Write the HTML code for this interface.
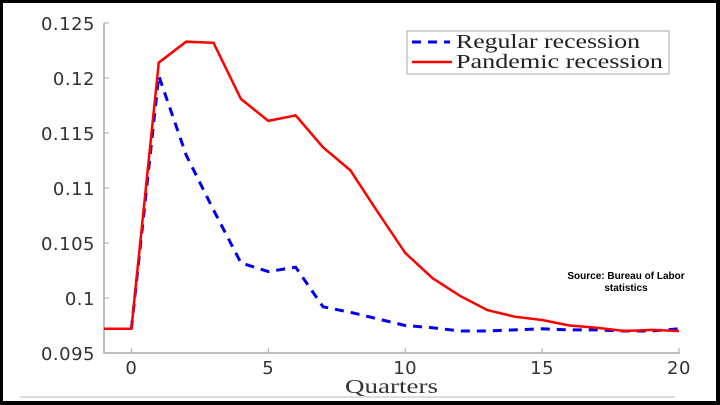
<!DOCTYPE html>
<html><head><meta charset="utf-8"><style>
body{margin:0;background:#000;}
#wrap{position:absolute;left:3px;top:3px;width:713px;height:398px;background:#fff;}
svg{position:absolute;left:0;top:0}
</style></head><body>
<div id="wrap"></div>
<svg id="chart" width="720" height="405"></svg>
<script>
const quarters=[-1,0,1,2,3,4,5,6,7,8,9,10,11,12,13,14,15,16,17,18,19,20];
const pandemic=[0.0972,0.0972,0.1214,0.1233,0.1232,0.1181,0.1161,0.1166,0.1137,0.1116,0.1078,0.1041,0.1018,0.1002,0.0989,0.0983,0.0980,0.0975,0.0973,0.0970,0.0971,0.0970];
const regQuarters=[0,1,2,3,4,5,6,7,8,9,10,11,12,13,14,15,16,17,18,19,20];
const regular=[0.0972,0.1202,0.1130,0.1080,0.1032,0.1024,0.1028,0.0992,0.0987,0.0981,0.0975,0.0973,0.0970,0.0970,0.0971,0.0972,0.0971,0.0971,0.0970,0.0970,0.0972];
const yTicks=[0.095,0.1,0.105,0.11,0.115,0.12,0.125];
const yTickLabels=["0.095","0.1","0.105","0.11","0.115","0.12","0.125"];
const xTicks=[0,5,10,15,20];
const NS="http://www.w3.org/2000/svg";
const svg=document.getElementById('chart');
const X=v=>104+(v+1)*(575/21);
const Y=v=>353-(v-0.095)/0.005*55;
function mk(t,a){const e=document.createElementNS(NS,t);for(const k in a)e.setAttribute(k,a[k]);svg.appendChild(e);return e;}
let ax=mk('path',{d:`M104,${Y(0.125)}V353H680`,fill:'none',stroke:'#aaa','stroke-width':1.5});


yTicks.forEach((v,i)=>{
 let tk=mk('line',{x1:104,x2:109,y1:Y(v),y2:Y(v),stroke:'#aaa'});
 
 
 let t=mk('text',{x:95,y:Y(v)+7,'text-anchor':'end','font-family':'DejaVu Sans, sans-serif','font-size':18,'letter-spacing':0.5,fill:'#333'});
 t.textContent=yTickLabels[i];
 
 
});
xTicks.forEach(v=>{
 let tk=mk('line',{x1:X(v),x2:X(v),y1:353,y2:348,stroke:'#aaa'});
 
 
 let t=mk('text',{x:X(v),y:374,'text-anchor':'middle','font-family':'DejaVu Sans, sans-serif','font-size':18,'letter-spacing':0.5,fill:'#333'});
 t.textContent=String(v);
 
 
});
let xt=mk('text',{x:345,y:393,'font-family':'Liberation Serif, serif','font-size':20,textLength:93,lengthAdjust:'spacingAndGlyphs',fill:'#333'});
xt.textContent='Quarters';


let gl=mk('line',{x1:20,x2:675,y1:397,y2:397,stroke:'#bbb'});


let rb=mk('polyline',{points:regQuarters.map((q,i)=>X(q)+','+Y(regular[i])).join(' '),fill:'none',stroke:'#0000ee','stroke-width':3,'stroke-dasharray':'9,7'});


let rp=mk('polyline',{points:quarters.map((q,i)=>X(q)+','+Y(pandemic[i])).join(' '),fill:'none',stroke:'#ff0000','stroke-width':2.5});


let lb=mk('rect',{x:407,y:31,width:262,height:43,fill:'#fff',stroke:'#aaa'});


let l1=mk('line',{x1:412,x2:450,y1:42,y2:42,stroke:'#0000ee','stroke-width':3,'stroke-dasharray':'9,7'});


let l2=mk('line',{x1:412,x2:452,y1:62,y2:62,stroke:'#ff0000','stroke-width':2.5});


let t1=mk('text',{x:456,y:48,'font-family':'Liberation Serif, serif','font-size':20,textLength:184,lengthAdjust:'spacingAndGlyphs',fill:'#222'});
t1.textContent='Regular recession';


let t2=mk('text',{x:456,y:68,'font-family':'Liberation Serif, serif','font-size':20,textLength:207,lengthAdjust:'spacingAndGlyphs',fill:'#222'});
t2.textContent='Pandemic recession';


let s1=mk('text',{x:626,y:279,'text-anchor':'middle','font-family':'Liberation Sans, sans-serif','font-size':10,'font-weight':'bold',fill:'#000'});
s1.textContent='Source: Bureau of Labor';


let s2=mk('text',{x:626,y:291,'text-anchor':'middle','font-family':'Liberation Sans, sans-serif','font-size':10,'font-weight':'bold',fill:'#000'});
s2.textContent='statistics';


</script>
</body></html>
